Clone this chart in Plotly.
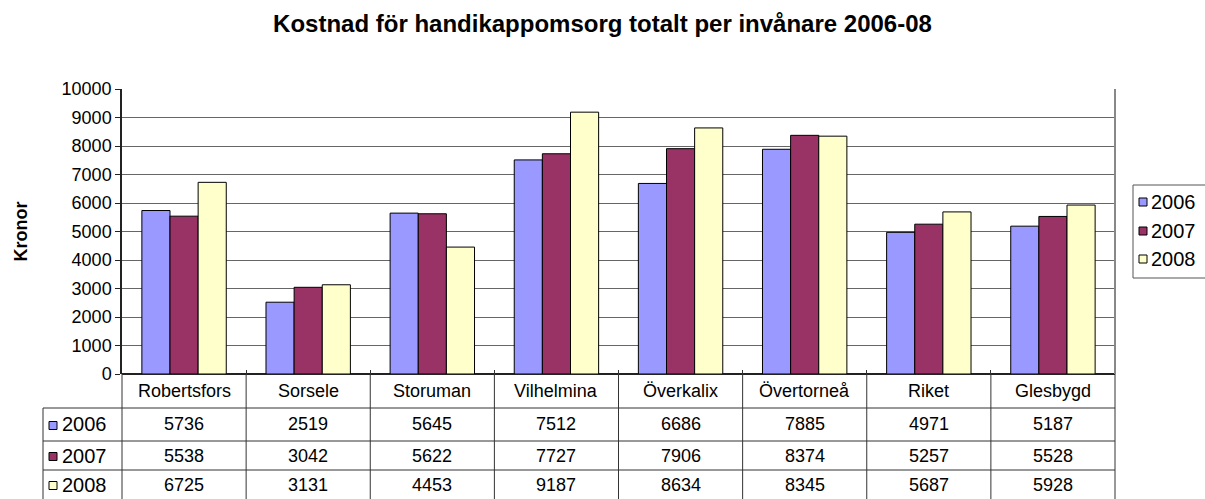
import plotly.graph_objects as go

categories = ["Robertsfors", "Sorsele", "Storuman", "Vilhelmina", "Överkalix", "Övertorneå", "Riket", "Glesbygd"]
years = ["2006", "2007", "2008"]
values_2006 = [5736, 2519, 5645, 7512, 6686, 7885, 4971, 5187]
values_2007 = [5538, 3042, 5622, 7727, 7906, 8374, 5257, 5528]
values_2008 = [6725, 3131, 4453, 9187, 8634, 8345, 5687, 5928]
series = [values_2006, values_2007, values_2008]
colors = ["#9999FF", "#993366", "#FFFFCC"]
y_ticks = list(range(0, 10001, 1000))

W, H = 1205, 499
L, R, T, B = 122, 1115, 89, 374
PW, PH = R - L, B - T


def xp(px):
    return (px - L) / PW


def yp(py):
    return (B - py) / PH


FONT = "Liberation Sans, Arial, sans-serif"
FS = 18
FS_KEY = 20

fig = go.Figure()
for yr, vals, col in zip(years, series, colors):
    fig.add_trace(go.Bar(
        name=yr, x=categories, y=vals,
        marker=dict(color=col, line=dict(color="black", width=1)),
        showlegend=False,
    ))

shapes = []
annotations = []
line_col = "#333333"

# table geometry (pixels)
row_edges = [374, 408, 441, 470, 499]
n = len(categories)
col_w = PW / n

# vertical lines of table (category boundaries)
for k in range(n + 1):
    xx = L + k * col_w
    shapes.append(dict(type="line", xref="paper", yref="paper",
                       x0=xp(xx), x1=xp(xx), y0=yp(374), y1=yp(499),
                       line=dict(color=line_col, width=1)))
# left border of row labels
shapes.append(dict(type="line", xref="paper", yref="paper",
                   x0=xp(43), x1=xp(43), y0=yp(408), y1=yp(499),
                   line=dict(color=line_col, width=1)))
# horizontal lines
for ry in row_edges[1:4]:
    shapes.append(dict(type="line", xref="paper", yref="paper",
                       x0=xp(43), x1=xp(R), y0=yp(ry), y1=yp(ry),
                       line=dict(color=line_col, width=1)))
# right border of plot area
shapes.append(dict(type="line", xref="paper", yref="paper",
                   x0=1, x1=1, y0=0, y1=1,
                   line=dict(color="#888888", width=2)))

# category headers
for i, c in enumerate(categories):
    annotations.append(dict(x=i, xref="x", y=yp((374 + 408) / 2), yref="paper",
                            text=c, showarrow=False, xanchor="center", yanchor="middle",
                            font=dict(size=FS, color="black", family=FONT)))
# value rows
for r, (yr, vals, col) in enumerate(zip(years, series, colors)):
    cy = (row_edges[r + 1] + row_edges[r + 2]) / 2
    for i, v in enumerate(vals):
        annotations.append(dict(x=i, xref="x", y=yp(cy), yref="paper",
                                text=str(v), showarrow=False, xanchor="center", yanchor="middle",
                                font=dict(size=FS, color="black", family=FONT)))
    # row label key
    shapes.append(dict(type="rect", xref="paper", yref="paper",
                       x0=xp(49), x1=xp(57), y0=yp(cy - 3), y1=yp(cy + 5),
                       fillcolor=col, line=dict(color="black", width=1)))
    annotations.append(dict(x=xp(60), xref="paper", y=yp(cy), yref="paper",
                            text=yr, showarrow=False, xanchor="left", yanchor="middle",
                            font=dict(size=FS_KEY, color="black", family=FONT)))

# legend (manual)
shapes.append(dict(type="rect", xref="paper", yref="paper",
                   x0=xp(1133), x1=xp(1230), y0=yp(278), y1=yp(185),
                   fillcolor="white", line=dict(color="#555555", width=1)))
legend_y = [202, 231, 259]
for yr, col, ly in zip(years, colors, legend_y):
    shapes.append(dict(type="rect", xref="paper", yref="paper",
                       x0=xp(1139), x1=xp(1147), y0=yp(ly + 4), y1=yp(ly - 4),
                       fillcolor=col, line=dict(color="black", width=1)))
    annotations.append(dict(x=xp(1149), xref="paper", y=yp(ly), yref="paper",
                            text=yr, showarrow=False, xanchor="left", yanchor="middle",
                            font=dict(size=FS_KEY, color="black", family=FONT)))

# y-axis title
annotations.append(dict(x=xp(20), xref="paper", y=0.5, yref="paper",
                        text="<b>Kronor</b>", showarrow=False, textangle=-90,
                        xanchor="center", yanchor="middle",
                        font=dict(size=18, color="black", family=FONT)))

fig.update_layout(
    width=W, height=H,
    margin=dict(l=L, r=W - R, t=T, b=H - B, autoexpand=False),
    paper_bgcolor="white", plot_bgcolor="white",
    barmode="group", bargap=0.32, bargroupgap=0,
    title=dict(text="<b>Kostnad för handikappomsorg totalt per invånare 2006-08</b>",
               x=0.5, xref="container", xanchor="center",
               y=1 - 24 / H, yref="container", yanchor="middle",
               font=dict(size=24, color="black", family=FONT)),
    xaxis=dict(showticklabels=False, showgrid=False, zeroline=False,
               tickson="boundaries", ticks="inside", ticklen=4, tickcolor=line_col,
               showline=False, range=[-0.5, n - 0.5], fixedrange=True),
    yaxis=dict(range=[0, 10000], tickvals=y_ticks, ticktext=[str(t) for t in y_ticks],
               showgrid=True, gridcolor="#666666", gridwidth=1,
               showline=True, linecolor="#222222", linewidth=1.5,
               ticks="outside", ticklen=5, tickcolor="#222222",
               zeroline=True, zerolinecolor="#222222", zerolinewidth=1.5,
               tickfont=dict(size=FS, color="black", family=FONT), fixedrange=True),
    shapes=shapes, annotations=annotations,
    font=dict(family=FONT, color="black"),
)

fig.write_html("out.html", config={"displayModeBar": False},
               post_script="document.body.style.margin='0';document.body.style.overflow='hidden';")
